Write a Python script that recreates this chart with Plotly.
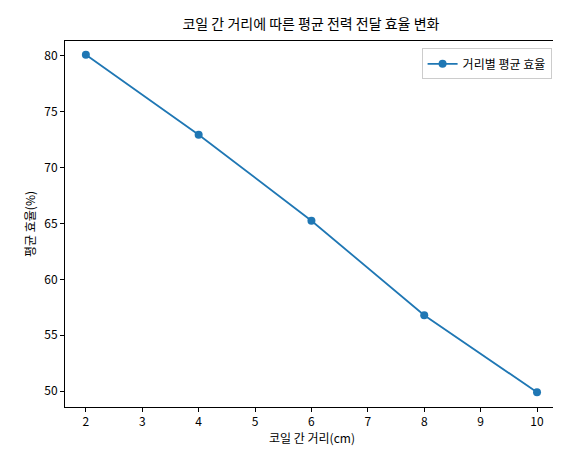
import plotly.graph_objects as go

distance_cm = [2, 4, 6, 8, 10]
avg_efficiency = [80.1, 72.95, 65.25, 56.8, 49.9]

font = "Noto Sans CJK KR"
fig = go.Figure()
fig.add_trace(go.Scatter(
    x=distance_cm, y=avg_efficiency, mode="lines+markers",
    name="거리별 평균 효율",
    line=dict(color="#1f77b4", width=1.8),
    marker=dict(size=8, color="#1f77b4"),
))
axis = dict(showgrid=False, zeroline=False, showline=True, mirror=True,
            linecolor="black", linewidth=1, ticks="outside", ticklen=4,
            tickcolor="black", tickfont=dict(size=12, color="black"),
            automargin=False)
fig.update_layout(
    width=561, height=455,
    font=dict(family=font, size=12, color="black"),
    title=dict(text="코일 간 거리에 따른 평균 전력 전달 효율 변화", x=0.54, xanchor="center",
               y=0.975, font=dict(size=14)),
    plot_bgcolor="white", paper_bgcolor="white",
    margin=dict(l=57, r=10, t=33, b=56),
    xaxis=dict(axis, range=[1.63, 10.39], tickvals=list(range(2, 11)),
               title=dict(text="코일 간 거리(cm)", standoff=6, font=dict(size=12))),
    yaxis=dict(axis, range=[48.58, 81.34], tickvals=[50, 55, 60, 65, 70, 75, 80],
               title=dict(text="평균 효율(%)", standoff=6, font=dict(size=12))),
    legend=dict(x=0.985, y=0.98, xanchor="right", yanchor="top",
                bordercolor="#cccccc", borderwidth=1, bgcolor="white"),
    showlegend=True,
)
fig.write_html("out.html")
